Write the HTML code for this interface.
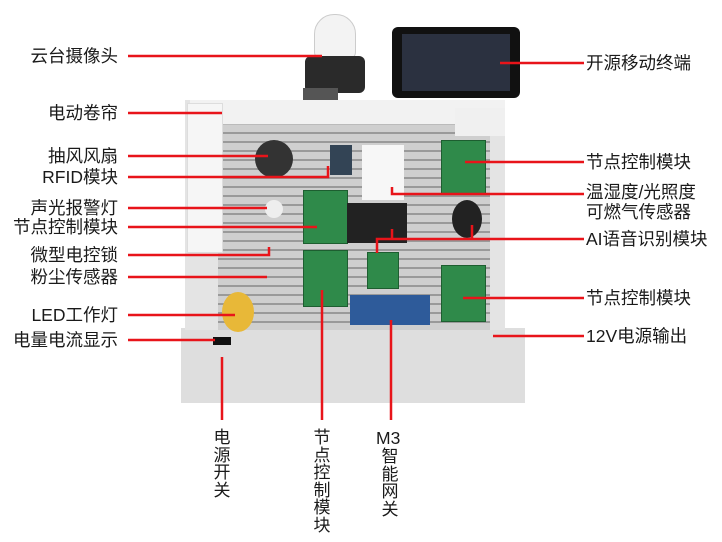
<!DOCTYPE html>
<html><head><meta charset="utf-8"><style>
body{margin:0;width:722px;height:542px;background:#fff;position:relative;overflow:hidden;font-family:"Liberation Sans","Noto Sans CJK SC",sans-serif;}
.a{position:absolute}
.t{position:absolute;font-size:17.5px;color:#1a1a1a;white-space:nowrap;line-height:20px}
.r{text-align:right;width:118px;left:0}
.v{position:absolute;font-size:17px;color:#1a1a1a;width:20px;line-height:17.6px;text-align:center}
.pcb{position:absolute;background:#2f8a4a;border:1px solid #1d5e30}
</style></head><body>
<!-- base -->
<div class="a" style="left:181px;top:328px;width:344px;height:75px;background:#dedede"></div>
<div class="a" style="left:185px;top:100px;width:320px;height:230px;background:#e4e4e4"></div>
<div class="a" style="left:218px;top:125px;width:272px;height:205px;background:#cfcfcf;background-image:repeating-linear-gradient(0deg,#cfcfcf 0 7px,#9a9a9a 7px 9px)"></div>
<div class="a" style="left:190px;top:100px;width:315px;height:24px;background:#f2f2f2;border-bottom:1px solid #bbb"></div>
<div class="a" style="left:187px;top:103px;width:34px;height:148px;background:#f6f6f6;border:1px solid #ddd"></div>
<div class="a" style="left:455px;top:108px;width:50px;height:28px;background:#f0f0f0"></div>
<!-- camera -->
<div class="a" style="left:314px;top:14px;width:40px;height:44px;background:#f3f3f3;border-radius:20px 20px 8px 8px;border:1px solid #ccc"></div>
<div class="a" style="left:305px;top:56px;width:60px;height:37px;background:#2a2a2a;border-radius:6px"></div>
<div class="a" style="left:303px;top:88px;width:35px;height:12px;background:#555"></div>
<!-- terminal -->
<div class="a" style="left:392px;top:27px;width:128px;height:71px;background:#111;border-radius:6px"></div>
<div class="a" style="left:402px;top:34px;width:108px;height:57px;background:#2b3140"></div>
<!-- modules -->
<div class="a" style="left:255px;top:140px;width:38px;height:38px;background:#333;border-radius:50%"></div>
<div class="a" style="left:330px;top:145px;width:22px;height:30px;background:#345"></div>
<div class="a" style="left:362px;top:145px;width:42px;height:55px;background:#f7f7f7"></div>
<div class="pcb" style="left:441px;top:140px;width:43px;height:52px"></div>
<div class="pcb" style="left:303px;top:190px;width:43px;height:52px"></div>
<div class="a" style="left:347px;top:203px;width:60px;height:40px;background:#222"></div>
<div class="a" style="left:452px;top:200px;width:30px;height:38px;background:#222;border-radius:50%"></div>
<div class="a" style="left:265px;top:200px;width:18px;height:18px;background:#eee;border-radius:50%"></div>
<div class="pcb" style="left:303px;top:250px;width:43px;height:55px"></div>
<div class="pcb" style="left:367px;top:252px;width:30px;height:35px"></div>
<div class="pcb" style="left:441px;top:265px;width:43px;height:55px"></div>
<div class="a" style="left:350px;top:295px;width:80px;height:30px;background:#2e5b9a"></div>
<div class="a" style="left:222px;top:292px;width:32px;height:40px;background:#e8b838;border-radius:50%"></div>
<div class="a" style="left:213px;top:337px;width:18px;height:8px;background:#111"></div>
<!-- red lines -->
<svg class="a" style="left:0;top:0" width="722" height="542">
<g stroke="#e8141a" stroke-width="2.5" fill="none">
<path d="M128 56H322"/>
<path d="M128 113H222"/>
<path d="M128 156H268"/>
<path d="M128 177H328V166"/>
<path d="M128 208H267"/>
<path d="M128 227H317"/>
<path d="M128 255H269V247"/>
<path d="M128 277H267"/>
<path d="M128 315H235"/>
<path d="M128 340H215"/>
<path d="M500 63H584"/>
<path d="M465 162H584"/>
<path d="M392 187V194H584"/>
<path d="M377 253V239H584M392 239V229M472 239V225"/>
<path d="M463 298H584"/>
<path d="M493 336H584"/>
<path d="M222 357V420"/>
<path d="M322 290V420"/>
<path d="M391 320V420"/>
</g></svg>
<!-- labels -->
<div class="t r" style="top:46px">云台摄像头</div>
<div class="t r" style="top:103px">电动卷帘</div>
<div class="t r" style="top:146px">抽风风扇</div>
<div class="t r" style="top:167px">RFID模块</div>
<div class="t r" style="top:198px">声光报警灯</div>
<div class="t r" style="top:217px">节点控制模块</div>
<div class="t r" style="top:245px">微型电控锁</div>
<div class="t r" style="top:267px">粉尘传感器</div>
<div class="t r" style="top:305px">LED工作灯</div>
<div class="t r" style="top:330px">电量电流显示</div>
<div class="t" style="left:586px;top:53px">开源移动终端</div>
<div class="t" style="left:586px;top:152px">节点控制模块</div>
<div class="t" style="left:586px;top:182px">温湿度/光照度</div>
<div class="t" style="left:586px;top:202px">可燃气传感器</div>
<div class="t" style="left:586px;top:229px">AI语音识别模块</div>
<div class="t" style="left:586px;top:288px">节点控制模块</div>
<div class="t" style="left:586px;top:326px">12V电源输出</div>
<div class="v" style="left:212px;top:429px">电<br>源<br>开<br>关</div>
<div class="v" style="left:312px;top:429px">节<br>点<br>控<br>制<br>模<br>块</div>
<div class="t" style="left:376px;top:428px">M3</div>
<div class="v" style="left:380px;top:448px">智<br>能<br>网<br>关</div>
</body></html>
